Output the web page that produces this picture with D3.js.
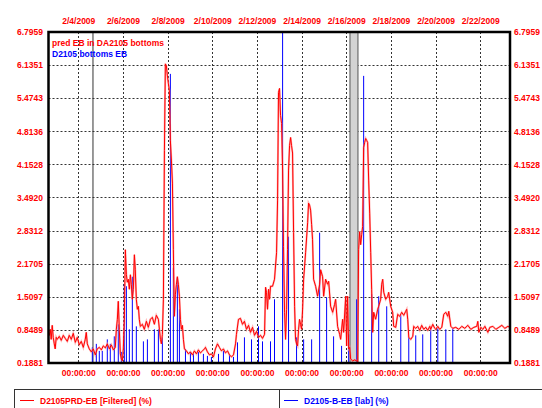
<!DOCTYPE html>
<html>
<head>
<meta charset="utf-8">
<script src="https://cdn.jsdelivr.net/npm/d3@7"></script>
<style>
  body { margin: 0; background: #fff; }
  svg { display: block; }
  text { font-family: "Liberation Sans", Arial, sans-serif; font-weight: bold; font-size: 8.5px; }
</style>
</head>
<body>
<svg id="chart" width="542" height="408"></svg>
<script>
// Hours are counted from 2 Feb 2009 00:00
const predHours = [
  15.7,16.8,17.9,18.9,20.0,21.1,22.2,23.2,24.3,25.4,27.6,29.7,31.9,34.0,36.2,38.3,40.5,42.6,44.8,46.9,
  49.1,51.2,53.4,55.5,56.6,57.7,59.8,62.0,64.1,66.3,68.4,70.6,72.8,74.9,77.1,79.2,81.4,83.5,85.7,87.8,
  88.9,90.0,91.0,92.1,93.2,94.3,95.4,96.4,97.5,98.6,99.7,100.7,101.8,102.9,104.0,105.0,106.1,107.2,108.3,109.3,
  110.4,111.5,112.6,113.6,114.7,116.9,119.0,121.2,123.3,125.5,127.6,129.8,131.9,134.1,135.2,136.3,137.3,138.4,139.5,140.6,
  141.6,142.7,143.8,144.9,145.9,147.0,148.1,149.2,150.2,151.3,152.4,153.5,154.5,155.6,156.7,157.8,158.8,159.9,161.0,162.1,
  164.2,166.4,168.5,170.7,172.8,175.0,177.1,179.3,181.5,183.6,184.7,186.8,189.0,191.1,193.3,195.4,197.6,199.7,201.9,204.0,
  206.2,208.4,210.5,212.7,214.8,217.0,218.0,220.2,222.3,224.5,226.6,228.8,231.0,233.1,235.3,237.4,239.6,241.7,243.9,246.0,
  248.2,249.3,250.3,251.4,252.5,253.6,254.6,256.8,258.9,261.1,262.2,263.2,264.3,265.4,266.5,267.6,268.6,269.7,270.8,271.9,
  272.9,274.0,275.1,276.2,277.2,278.3,279.4,280.5,281.5,282.6,283.7,284.8,285.8,286.9,288.0,289.1,290.2,292.3,294.5,295.5,
  296.6,297.7,298.8,299.8,300.9,303.1,305.2,307.4,308.5,310.6,311.7,313.8,316.0,317.1,319.2,321.4,323.5,324.6,326.7,328.9,
  330.0,332.1,333.2,335.4,336.4,337.5,338.6,339.7,340.7,342.9,345.0,347.2,348.3,349.3,350.4,351.5,352.6,353.6,354.7,355.8,
  356.9,358.0,359.0,360.1,361.2,362.3,363.3,364.4,365.5,367.6,369.8,370.9,373.0,374.1,375.2,376.3,378.4,380.6,381.6,383.8,
  385.9,387.0,389.2,391.3,393.5,395.6,397.8,399.9,401.0,402.1,403.2,405.3,407.5,408.5,410.7,412.8,415.0,417.1,419.3,421.5,
  423.6,425.8,426.8,429.0,431.1,432.2,434.4,436.5,438.7,440.8,443.0,445.1,446.2,448.4,450.5,453.7,457.0,460.2,463.4,466.7,
  469.9,473.1,476.3,477.4,478.5,480.6,482.8,485.0,488.2,490.3,493.6,496.8,500.0,503.2,506.5,509.7,511.9
];
const predValues = [
  0.80,0.74,0.86,0.66,0.94,0.70,0.57,0.47,0.70,0.66,0.72,0.64,0.74,0.68,0.62,0.74,0.66,0.78,0.60,0.70,
  0.55,0.62,0.50,0.66,0.80,0.57,0.47,0.41,0.47,0.35,0.47,0.50,0.45,0.53,0.49,0.57,0.47,0.55,0.45,0.50,
  0.86,1.06,1.42,0.86,0.37,0.27,0.23,0.47,1.06,2.45,1.95,1.80,1.86,1.66,1.95,1.76,1.46,1.66,2.35,2.05,
  1.46,1.26,1.32,1.06,0.92,0.96,0.86,1.02,0.90,1.06,1.10,0.96,1.14,1.06,0.86,0.66,0.57,0.76,1.46,4.43,
  6.16,6.12,5.92,5.76,5.63,4.63,4.24,3.78,2.45,1.12,1.56,1.76,1.91,1.76,1.52,1.06,0.86,0.94,0.66,0.47,
  0.43,0.37,0.41,0.35,0.43,0.37,0.45,0.39,0.43,0.47,0.50,0.41,0.35,0.37,0.31,0.47,0.57,0.50,0.43,0.47,
  0.39,0.43,0.35,0.31,0.35,0.57,0.76,1.06,1.08,0.96,1.02,0.86,0.94,0.80,0.90,0.74,0.82,0.70,0.74,0.68,
  0.76,1.70,1.60,1.26,1.66,1.46,1.72,1.72,1.86,2.39,3.44,5.59,5.67,5.13,4.97,4.04,2.51,1.20,0.66,1.26,
  2.45,4.04,4.53,4.69,4.53,4.38,2.79,1.32,0.66,0.57,0.53,0.86,1.06,0.96,0.86,1.26,1.86,2.39,2.99,3.38,
  3.34,3.24,2.95,2.65,1.86,1.72,1.52,1.76,2.05,1.91,1.52,1.86,1.76,1.82,1.32,1.20,1.36,1.46,0.92,0.76,
  0.66,1.06,0.80,1.52,0.53,1.52,0.47,0.50,0.27,0.23,0.25,0.23,0.21,2.45,2.81,2.55,2.75,2.91,4.49,4.59,
  4.67,4.63,4.59,3.84,3.18,2.39,1.66,0.80,1.20,1.06,1.26,1.32,1.46,1.76,1.86,1.60,1.46,1.52,1.60,1.32,
  1.20,0.92,0.90,1.16,1.12,1.20,1.14,1.22,1.26,1.06,0.70,0.66,0.72,0.92,0.88,0.92,0.84,0.94,0.86,0.90,
  0.84,0.92,0.86,0.96,0.88,0.86,0.92,0.86,0.90,1.16,1.20,1.12,1.22,0.92,0.88,0.90,0.86,0.92,0.88,0.94,
  0.86,0.90,0.92,1.02,0.80,0.90,0.86,0.92,0.80,0.90,0.92,0.86,0.90,0.94,0.88,0.92,0.90
];
const labHours = [
  63.1,67.4,70.6,73.8,79.2,82.4,86.7,91.0,94.3,97.5,99.7,102.9,106.1,110.4,118.0,122.3,129.8,134.1,138.4,147.0,
  150.2,154.5,156.7,163.2,168.5,171.8,177.1,182.5,186.8,191.1,198.7,204.0,210.5,214.8,219.1,226.6,234.2,241.7,246.0,254.6,
  258.9,267.6,274.0,282.6,290.2,298.8,307.4,314.9,322.4,331.0,338.6,347.2,354.7,363.3,370.9,379.5,394.6,403.2,410.7,418.2,
  426.8,434.4,443.0,450.5
];
const labValues = [
  0.50,0.57,0.43,0.43,0.66,0.57,0.72,0.96,0.41,1.76,1.72,0.86,1.91,0.92,0.62,0.66,0.86,0.86,0.70,5.96,
  2.09,1.89,1.26,0.47,0.41,0.37,0.41,0.37,0.33,0.31,0.37,0.43,0.35,0.31,0.60,0.70,0.66,0.92,0.62,0.62,
  1.46,7.20,2.71,0.70,0.66,0.66,2.79,1.50,0.72,0.53,0.76,1.46,5.92,1.56,1.52,1.32,1.14,0.70,0.74,0.76,
  0.86,0.88,0.86,0.88
];
// Event marker and shaded outage window (hours from 2 Feb 2009)
const markerHours = [63.8];
const shadeHours = [340.0, 348.6];

const yTicks = [0.1881, 0.8489, 1.5097, 2.1705, 2.8312, 3.4920, 4.1528, 4.8136, 5.4743, 6.1351, 6.7959];
const dateTickLabels = ["2/4/2009","2/6/2009","2/8/2009","2/10/2009","2/12/2009","2/14/2009","2/16/2009","2/18/2009","2/20/2009","2/22/2009"];
const titleLines = ["pred EB in DA2105 bottoms", "D2105 bottoms EB"];
const legendItems = ["D2105PRD-EB [Filtered] (%)", "D2105-B-EB [lab] (%)"];

const RED = "#ff0000", BLUE = "#0000ff";
const base = new Date(2009, 1, 2, 0, 0, 0);
const at = h => new Date(base.getTime() + h * 3600e3);

const svg = d3.select("#chart");
const pLeft = 48.5, pRight = 510, pTop = 32, pBottom = 363;

const x = d3.scaleTime()
  .domain([new Date(2009, 1, 2, 16), new Date(2009, 1, 23, 8)])
  .range([pLeft, pRight]);
const y = d3.scaleLinear()
  .domain([yTicks[0], yTicks[yTicks.length - 1]])
  .range([pBottom, pTop]);

const parseDay = d3.timeParse("%m/%d/%Y");
const dateTicks = dateTickLabels.map(parseDay);

svg.append("defs").append("clipPath").attr("id", "plot")
  .append("rect").attr("x", pLeft).attr("y", pTop).attr("width", pRight - pLeft).attr("height", pBottom - pTop);

// grid
const grid = svg.append("g").attr("stroke", "#333").attr("stroke-width", 1).attr("stroke-dasharray", "2,2");
grid.selectAll("line.h").data(yTicks.slice(1, -1)).join("line")
  .attr("class", "h")
  .attr("x1", pLeft).attr("x2", pRight)
  .attr("y1", d => Math.round(y(d)) + 0.5).attr("y2", d => Math.round(y(d)) + 0.5);
grid.selectAll("line.v").data(dateTicks).join("line")
  .attr("class", "v")
  .attr("y1", pTop).attr("y2", pBottom)
  .attr("x1", d => Math.round(x(d)) + 0.5).attr("x2", d => Math.round(x(d)) + 0.5);

const plot = svg.append("g").attr("clip-path", "url(#plot)");

// shaded window
plot.append("rect")
  .attr("x", x(at(shadeHours[0]))).attr("y", pTop)
  .attr("width", x(at(shadeHours[1])) - x(at(shadeHours[0])))
  .attr("height", pBottom - pTop)
  .attr("fill", "#d3d3d3").attr("stroke", "#555").attr("stroke-width", 1);

// event marker
plot.selectAll("line.marker").data(markerHours).join("line")
  .attr("class", "marker")
  .attr("x1", d => x(at(d))).attr("x2", d => x(at(d)))
  .attr("y1", pTop).attr("y2", pBottom)
  .attr("stroke", "#333").attr("stroke-width", 1);

// lab results as vertical bars from the baseline
plot.selectAll("line.lab").data(labHours.map((h, i) => [at(h), labValues[i]])).join("line")
  .attr("class", "lab")
  .attr("x1", d => x(d[0])).attr("x2", d => x(d[0]))
  .attr("y1", y(yTicks[0])).attr("y2", d => y(d[1]))
  .attr("stroke", BLUE).attr("stroke-width", 1);

// filtered prediction: soft halo under a crisp trace
const predData = predHours.map((h, i) => [at(h), predValues[i]]);
const predLine = d3.line().x(d => x(d[0])).y(d => y(d[1]));
plot.append("path").datum(predData)
  .attr("fill", "none").attr("stroke", "#ff8080").attr("stroke-width", 2).attr("stroke-opacity", 0.6)
  .attr("d", predLine);
plot.append("path").datum(predData)
  .attr("fill", "none").attr("stroke", RED).attr("stroke-width", 1)
  .attr("d", predLine);

// frame
svg.append("rect").attr("x", pLeft).attr("y", pTop).attr("width", pRight - pLeft).attr("height", pBottom - pTop)
  .attr("fill", "none").attr("stroke", "#000").attr("stroke-width", 2.5);

// axes
function styleAxis(g) {
  g.attr("font-size", null).attr("font-family", null);
  g.select(".domain").remove();
  g.selectAll("line").remove();
  g.selectAll("text").attr("fill", RED);
}
svg.append("g").attr("transform", `translate(${pLeft},0)`)
  .call(d3.axisLeft(y).tickValues(yTicks).tickFormat(d3.format(".4f")).tickSize(0).tickPadding(5.5))
  .call(styleAxis);
svg.append("g").attr("transform", `translate(${pRight},0)`)
  .call(d3.axisRight(y).tickValues(yTicks).tickFormat(d3.format(".4f")).tickSize(0).tickPadding(4))
  .call(styleAxis);
svg.append("g").attr("transform", `translate(0,${pTop})`)
  .call(d3.axisTop(x).tickValues(dateTicks).tickFormat((d, i) => dateTickLabels[i]).tickSize(0).tickPadding(8))
  .call(styleAxis);
svg.append("g").attr("transform", `translate(0,${pBottom})`)
  .call(d3.axisBottom(x).tickValues(dateTicks).tickFormat(d3.timeFormat("%H:%M:%S")).tickSize(0).tickPadding(7))
  .call(styleAxis);

// series titles inside the plot
svg.selectAll("text.title").data(titleLines).join("text")
  .attr("class", "title")
  .attr("x", 52).attr("y", (d, i) => 46 + i * 11)
  .attr("fill", (d, i) => i === 0 ? RED : BLUE)
  .text(d => d);

// legend
const lg = svg.append("g");
const legendTop = 389;
lg.append("line").attr("x1", 14).attr("x2", 542).attr("y1", legendTop + 0.5).attr("y2", legendTop + 0.5)
  .attr("stroke", "#333");
[14, 279].forEach(px => lg.append("line")
  .attr("x1", px + 0.5).attr("x2", px + 0.5).attr("y1", legendTop).attr("y2", 408).attr("stroke", "#333"));
const cellX = [20, 284];
legendItems.forEach((t, i) => {
  const c = i === 0 ? RED : BLUE;
  lg.append("line").attr("x1", cellX[i]).attr("x2", cellX[i] + 14)
    .attr("y1", 400.5).attr("y2", 400.5).attr("stroke", c);
  lg.append("text").attr("x", cellX[i] + 20).attr("y", 403.5).attr("fill", c).text(t);
});
</script>
</body>
</html>
